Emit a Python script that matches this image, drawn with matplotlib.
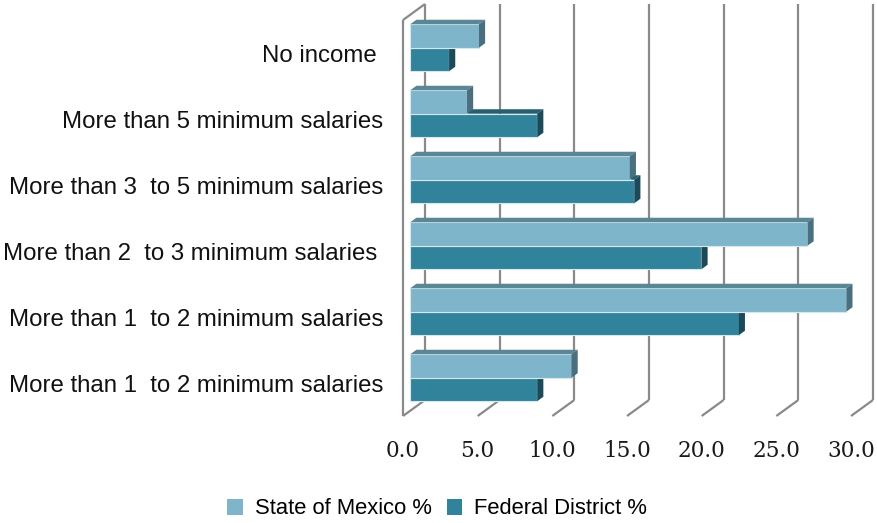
import matplotlib
matplotlib.use("Agg")
import matplotlib.pyplot as plt
from matplotlib.patches import Polygon, Patch

# categories, bottom to top
categories = [
    "More than 1  to 2 minimum salaries",
    "More than 1  to 2 minimum salaries",
    "More than 2  to 3 minimum salaries ",
    "More than 3  to 5 minimum salaries",
    "More than 5 minimum salaries",
    "No income ",
]
state_mexico = [10.8, 29.2, 26.6, 14.7, 3.8, 4.6]
federal_district = [8.5, 22.0, 19.5, 15.0, 8.5, 2.6]
x_ticks = [0, 5, 10, 15, 20, 25, 30]
series_names = ["State of Mexico %", "Federal District %"]

# colours: front, top, side
sm_colors = ("#7fb5ca", "#5a8696", "#4a6f7e")
fd_colors = ("#31839c", "#265f70", "#1d4a58")

fig = plt.figure(figsize=(8.78, 5.23), dpi=100)
W, H = 878, 523
x_front0, x_front30, y_bot, y_top = 403, 851, 416, 20
ax = fig.add_axes([x_front0 / W, (H - y_bot) / H,
                   (x_front30 - x_front0) / W, (y_bot - y_top) / H])
ax.set_xlim(0, 30)
ax.set_ylim(-0.5, 5.5)
for s in ax.spines.values():
    s.set_visible(False)

# depth vector (data units)
px_per_x = (x_front30 - x_front0) / 30
px_per_y = (y_bot - y_top) / 6
dx = 22 / px_per_x
dy = 16 / px_per_y

grid_kw = dict(color="#8a8a8a", lw=1.6, solid_capstyle="butt", zorder=1, clip_on=False)
for v in x_ticks:
    # back wall line + floor diagonal
    ax.plot([v + dx, v + dx], [-0.5 + dy, 5.5 + dy], **grid_kw)
    ax.plot([v, v + dx], [-0.5, -0.5 + dy], **grid_kw)
# left wall
ax.plot([0, 0], [-0.5, 5.5], **grid_kw)
ax.plot([0, dx], [5.5, 5.5 + dy], **grid_kw)

# bars
f0 = 0.33
bdx, bdy = 0.28 * dx, 0.28 * dy
h = 0.356
x0 = f0 * dx


def draw_bar(y_lo, val, cols):
    yb = y_lo + f0 * dy
    yt = yb + h
    ax.barh(yb, val, height=h, left=x0, align="edge", color=cols[0],
            edgecolor="#d5e8ee", linewidth=0.8, zorder=3, clip_on=False)
    xe = x0 + val
    top = Polygon([(x0, yt), (xe, yt), (xe + bdx, yt + bdy), (x0 + bdx, yt + bdy)],
                  closed=True, facecolor=cols[1], edgecolor="none", zorder=3, clip_on=False)
    side = Polygon([(xe, yb), (xe, yt), (xe + bdx, yt + bdy), (xe + bdx, yb + bdy)],
                   closed=True, facecolor=cols[2], edgecolor="none", zorder=3, clip_on=False)
    ax.add_patch(top)
    ax.add_patch(side)


for i in range(len(categories)):
    draw_bar(i - h, federal_district[i], fd_colors)
    draw_bar(i, state_mexico[i], sm_colors)

ax.set_yticks(range(len(categories)))
ax.set_yticklabels(categories, fontsize=17.3, family="Liberation Sans", color="#111111")
ax.set_xticks(x_ticks)
ax.set_xticklabels([f"{v:.1f}" for v in x_ticks], fontsize=15.5,
                   family="DejaVu Serif", color="#1a1a1a")
ax.tick_params(axis="y", length=0, pad=14)
ax.tick_params(axis="x", length=0, pad=17)

handles = [Patch(facecolor=sm_colors[0]), Patch(facecolor=fd_colors[0])]
fig.legend(handles, series_names, loc="center", bbox_to_anchor=(0.498, 14 / H),
           ncol=2, frameon=False, prop={"family": "Liberation Sans", "size": 15.8},
           handlelength=0.7, handleheight=0.7, handletextpad=0.55, columnspacing=0.7)

fig.savefig("out.png", dpi=100)
